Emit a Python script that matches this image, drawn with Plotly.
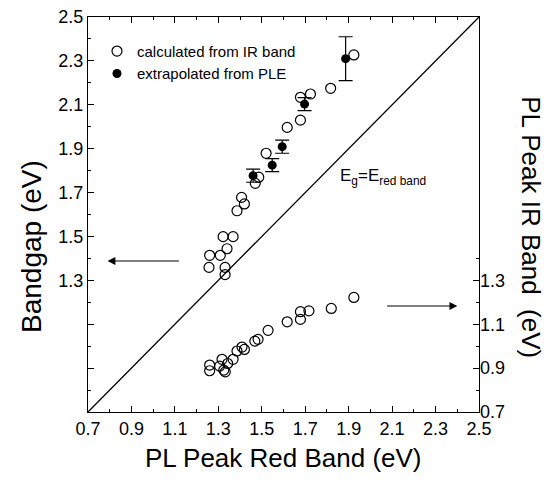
import plotly.graph_objects as go

# PL peak of red band (x) vs bandgap calculated from IR band (left axis)
red_calc = [1.52, 1.486, 1.47, 1.407, 1.42, 1.386, 1.322, 1.368, 1.34, 1.26, 1.309,
            1.257, 1.331, 1.331, 1.817, 1.724, 1.678, 1.678, 1.617, 1.924]
gap_calc = [1.879, 1.77, 1.742, 1.678, 1.648, 1.617, 1.499, 1.499, 1.444, 1.414, 1.414,
            1.359, 1.359, 1.326, 2.175, 2.149, 2.134, 2.03, 1.997, 2.327]

# bandgap extrapolated from PLE, with error bars
red_ple = [1.46, 1.548, 1.594, 1.697, 1.886]
gap_ple = [1.777, 1.825, 1.909, 2.103, 2.31]
gap_ple_err = [0.03, 0.03, 0.03, 0.03, 0.1]

# PL peak of IR band (right axis)
red_ir = [1.924, 1.82, 1.717, 1.678, 1.678, 1.617, 1.529, 1.483, 1.468, 1.409, 1.42,
          1.386, 1.368, 1.343, 1.317, 1.306, 1.325, 1.332, 1.26, 1.26]
ir_peak = [1.222, 1.172, 1.161, 1.157, 1.122, 1.111, 1.072, 1.031, 1.023, 0.996, 0.985,
           0.978, 0.94, 0.921, 0.94, 0.909, 0.891, 0.883, 0.914, 0.888]

# Eg = E_red band reference line
diag = [0.7, 2.5]

left_ticks = [0.7, 0.9, 1.1, 1.3, 1.5, 1.7, 1.9, 2.1, 2.3, 2.5]
left_text = ['', '', '', '1.3', '1.5', '1.7', '1.9', '2.1', '2.3', '2.5']
right_ticks = [0.7, 0.9, 1.1, 1.3]
x_ticks = [0.7, 0.9, 1.1, 1.3, 1.5, 1.7, 1.9, 2.1, 2.3, 2.5]

font = 'Arial'
fig = go.Figure()

fig.add_trace(go.Scatter(x=diag, y=diag, mode='lines', line=dict(color='black', width=1.3),
                         showlegend=False, hoverinfo='skip'))
fig.add_trace(go.Scatter(x=red_calc, y=gap_calc, mode='markers', name='calculated from IR band',
                         marker=dict(symbol='circle-open', size=10, color='black', line=dict(width=1.2))))
fig.add_trace(go.Scatter(x=red_ple, y=gap_ple, mode='markers', name='extrapolated from PLE',
                         marker=dict(symbol='circle', size=9, color='black'),
                         error_y=dict(type='data', array=gap_ple_err, color='black', thickness=1.2, width=7)))
fig.add_trace(go.Scatter(x=red_ir, y=ir_peak, mode='markers', yaxis='y2', showlegend=False,
                         marker=dict(symbol='circle-open', size=10, color='black', line=dict(width=1.2))))

axis_common = dict(showgrid=False, zeroline=False, linecolor='black', linewidth=1.3,
                   ticks='inside', tickcolor='black', ticklen=6, tickwidth=1, automargin=False,
                   ticklabeloverflow='allow',
                   tickfont=dict(family=font, size=18, color='black'))

# page body adds an 8px margin, so the figure is 16px smaller than the window
fig.update_layout(
    width=540, height=467,
    margin=dict(l=80, r=69, t=9, b=63),
    paper_bgcolor='white', plot_bgcolor='white',
    font=dict(family=font, color='black'),
    xaxis=dict(range=[0.7, 2.5], tickvals=x_ticks, ticktext=[f'{v:.1f}' for v in x_ticks],
               showline=True, mirror='ticks',
               minor=dict(ticks='inside', ticklen=3, tickcolor='black', dtick=0.1, tick0=0.7),
               **axis_common),
    yaxis=dict(range=[0.7, 2.5], tickvals=left_ticks, ticktext=left_text,
               showline=True, mirror=True,
               minor=dict(ticks='inside', ticklen=3, tickcolor='black', dtick=0.1, tick0=0.7),
               **axis_common),
    yaxis2=dict(range=[0.7, 2.5], overlaying='y', side='right', tickvals=right_ticks,
                ticktext=[f'{v:.1f}' for v in right_ticks], showline=False,
                minor=dict(ticks='inside', ticklen=3, tickcolor='black',
                           tickvals=[0.8, 1.0, 1.2, 1.4]),
                **axis_common),
    legend=dict(x=0.023, y=0.955, xanchor='left', yanchor='top', bgcolor='rgba(0,0,0,0)',
                font=dict(family=font, size=15), tracegroupgap=2),
    showlegend=True,
)

# axis titles
fig.add_annotation(text='PL Peak Red Band (eV)', xref='paper', yref='paper', x=0.5, y=-0.1165,
                   xanchor='center', yanchor='middle', showarrow=False, font=dict(family=font, size=26))
fig.add_annotation(text='Bandgap (eV)', xref='paper', yref='paper', x=-0.143, y=0.418,
                   xanchor='center', yanchor='middle', textangle=-90, showarrow=False,
                   font=dict(family=font, size=28))
fig.add_annotation(text='PL Peak IR Band  (eV)', xref='paper', yref='paper', x=1.133, y=0.468,
                   xanchor='center', yanchor='middle', textangle=90, showarrow=False,
                   font=dict(family=font, size=26))

fig.add_annotation(text='E<sub>g</sub>=E<sub>red band</sub>', xref='x', yref='y', x=1.85, y=1.77,
                   xanchor='left', showarrow=False, font=dict(family=font, size=17))
fig.add_annotation(x=0.79, y=1.388, ax=1.125, ay=1.388, xref='x', yref='y', axref='x', ayref='y',
                   showarrow=True, arrowhead=2, arrowsize=1.3, arrowwidth=1.2, arrowcolor='black', text='')
fig.add_annotation(x=2.40, y=1.183, ax=2.07, ay=1.183, xref='x', yref='y', axref='x', ayref='y',
                   showarrow=True, arrowhead=2, arrowsize=1.3, arrowwidth=1.2, arrowcolor='black', text='')

fig.write_html('out.html')
